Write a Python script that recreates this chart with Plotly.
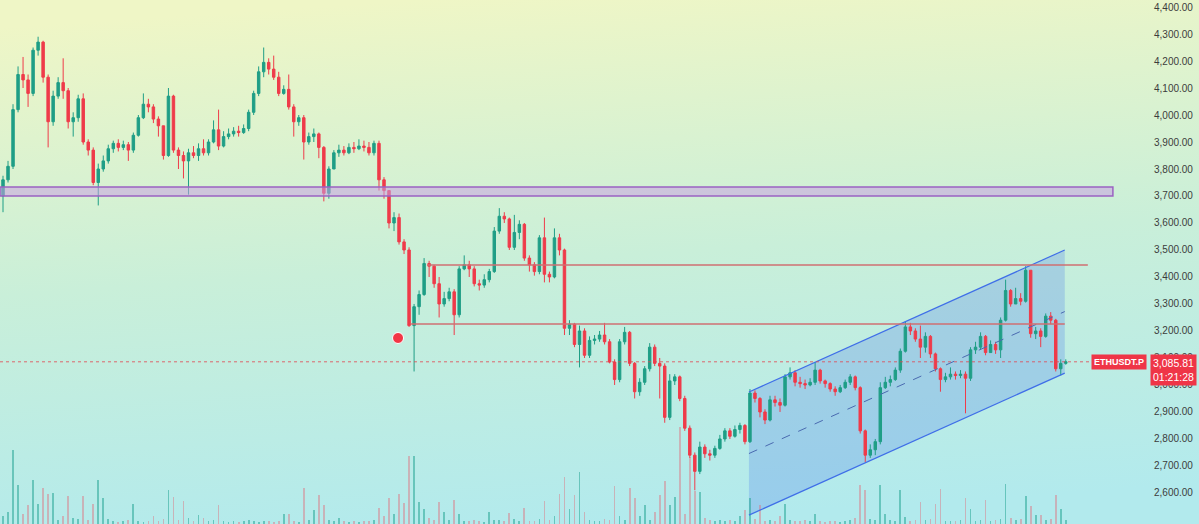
import base64
import plotly.graph_objects as go

# ---------------- data ----------------
first_open = 3700
closes = [
    3760, 3810, 4020, 4150, 4130, 4080, 4240, 4270, 4140, 3975,
    4070, 4120, 4090, 3975, 3990, 4060, 3900, 3870, 3750, 3800,
    3830, 3875, 3895, 3880, 3890, 3870, 3925, 3990, 4040, 4030,
    3985, 3960, 3850, 4070, 3870, 3850, 3830, 3860, 3850, 3875,
    3860, 3900, 3945, 3885, 3920, 3930, 3940, 3935, 3950, 4010,
    4080, 4160, 4195, 4170, 4140, 4080, 4095, 4030, 3975, 3990,
    3900, 3920, 3930, 3880, 3710, 3800, 3860, 3870, 3860, 3880,
    3875, 3885, 3880, 3860, 3895, 3760, 3720, 3600, 3620, 3530,
    3500, 3220, 3290, 3335, 3450, 3440, 3375, 3300, 3320, 3345,
    3260, 3430, 3445, 3430, 3375, 3370, 3390, 3420, 3570, 3625,
    3615, 3510, 3565, 3595, 3470, 3445, 3420, 3545, 3410, 3400,
    3545, 3500, 3210, 3225, 3150, 3200, 3110, 3165, 3170, 3185,
    3160, 3085, 3020, 3160, 3195, 3080, 2975, 3010, 3060, 3140,
    3080, 3070, 2880, 3015, 3030, 2950, 2840, 2740, 2680, 2770,
    2745, 2740, 2765, 2800, 2830, 2810, 2835, 2850, 2790, 2970,
    2950, 2900, 2870, 2945, 2935, 2925, 3030, 3045, 3010, 3005,
    3000, 3010, 3055, 3015, 3005, 2985, 2975, 2990, 3010, 3030,
    2990, 2830, 2740, 2760, 2790, 2990, 3010, 3020, 3055, 3125,
    3215, 3200, 3170, 3140, 3180, 3115, 3060, 3020, 3030, 3040,
    3035, 3040, 3025, 3130, 3140, 3180, 3120, 3150, 3130, 3240,
    3350, 3300, 3320, 3310, 3425, 3190, 3200, 3180, 3255, 3240,
    3060, 3080, 3085.81,
]
highs = [
    3775, 3830, 4040, 4180, 4215, 4150, 4250, 4290, 4275, 4150,
    4090, 4140, 4210, 4100, 4010, 4075, 4080, 3910, 3880, 3820,
    3850, 3890, 3905, 3910, 3905, 3900, 3935, 4000, 4080, 4060,
    4040, 3995, 3960, 4100, 4075, 3880, 3865, 3875, 3885, 3895,
    3910, 3910, 3980, 4020, 3940, 3950, 3955, 3960, 3965, 4020,
    4090, 4180, 4250, 4210, 4220, 4160, 4110, 4150, 4040, 4000,
    4000, 3935, 3950, 3935, 3885, 3810, 3870, 3890, 3885, 3895,
    3900, 3910, 3905, 3900, 3905, 3905, 3770, 3720, 3640, 3635,
    3540, 3510, 3300, 3350, 3470, 3460, 3445, 3400, 3345, 3360,
    3355, 3440, 3480, 3460, 3440, 3390, 3410, 3430, 3585, 3655,
    3640, 3620, 3630, 3610, 3600, 3480, 3455, 3555, 3620, 3420,
    3580, 3560, 3505, 3240, 3230, 3220, 3210, 3180, 3185, 3200,
    3230, 3170, 3095, 3170, 3215, 3200, 3085, 3025, 3070, 3155,
    3150, 3100, 3080, 3040, 3040, 3035, 2960, 2850, 2750, 2790,
    2780, 2760, 2775, 2815, 2840, 2840, 2850, 2860, 2855, 2985,
    2980, 2955, 2910, 2960, 2960, 2950, 3040, 3065, 3055, 3030,
    3020, 3025, 3085, 3060, 3020, 3010, 2995, 3000, 3020, 3040,
    3035, 2995, 2835, 2780, 2800, 3010, 3030, 3035, 3065, 3135,
    3235, 3230, 3210, 3220, 3195, 3185, 3120, 3065, 3045, 3065,
    3050, 3055, 3050, 3140, 3160, 3195, 3185, 3165, 3160, 3250,
    3390, 3355, 3360, 3340, 3440, 3425, 3215, 3210, 3265, 3270,
    3245, 3095, 3095,
]
lows = [
    3640, 3750, 3800, 4010, 4100, 4030, 4070, 4220, 4120, 3880,
    3960, 4060, 4060, 3950, 3920, 3975, 3890, 3850, 3740, 3665,
    3790, 3820, 3860, 3865, 3870, 3830, 3860, 3920, 3985, 4010,
    3970, 3920, 3835, 3845, 3860, 3800, 3765, 3705, 3840, 3830,
    3850, 3850, 3895, 3870, 3880, 3910, 3920, 3920, 3930, 3940,
    4000, 4070, 4140, 4150, 4130, 4070, 4075, 4020, 3920, 3960,
    3835, 3890, 3900, 3840, 3680, 3690, 3800, 3845, 3850, 3855,
    3860, 3870, 3865, 3850, 3850, 3720, 3690, 3580, 3570, 3520,
    3485, 3215, 3050, 3260, 3330, 3400, 3360, 3250, 3290, 3310,
    3185, 3250, 3425, 3400, 3365, 3350, 3360, 3380, 3415, 3560,
    3600, 3500, 3500, 3540, 3460, 3420, 3405, 3410, 3380, 3380,
    3395, 3480, 3185, 3185, 3140, 3065, 3100, 3100, 3150, 3160,
    3150, 3080, 3000, 3010, 3150, 3070, 2950, 2960, 3000, 3050,
    3070, 2950, 2860, 2870, 3000, 2940, 2830, 2730, 2610, 2670,
    2730, 2720, 2730, 2760, 2790, 2800, 2805, 2820, 2780, 2785,
    2935, 2880, 2855, 2865, 2920, 2900, 2920, 3020, 2995, 2990,
    2985, 2995, 3000, 3005, 2990, 2975, 2960, 2970, 2985, 3000,
    2980, 2820, 2715, 2730, 2740, 2780, 2985, 2995, 3015, 3045,
    3120, 3185, 3160, 3100, 3120, 3100, 3050, 2975, 3010, 3020,
    3020, 3025, 2895, 3015, 3115, 3130, 3110, 3120, 3115, 3100,
    3235, 3290, 3300, 3295, 3305, 3175, 3170, 3140, 3175, 3225,
    3050, 3035, 3075,
]
volumes = [
    8, 12, 74, 39, 10, 19, 44, 20, 36, 30,
    31, 4, 8, 28, 6, 5, 28, 4, 20, 44,
    26, 5, 3, 2, 3, 4, 20, 3, 2, 3,
    8, 3, 5, 34, 27, 4, 23, 6, 3, 9,
    6, 3, 4, 19, 3, 2, 3, 2, 3, 4,
    3, 2, 3, 3, 2, 3, 10, 10, 3, 2,
    36, 4, 14, 29, 19, 4, 3, 6, 3, 2,
    3, 2, 3, 3, 4, 16, 8, 26, 10, 30,
    21, 68, 68, 22, 15, 6, 4, 22, 12, 4,
    24, 10, 3, 3, 4, 3, 2, 12, 4, 4,
    3, 11, 5, 3, 16, 3, 3, 5, 23, 4,
    8, 30, 47, 15, 29, 52, 12, 4, 3, 3,
    5, 4, 38, 8, 4, 36, 26, 8, 19, 4,
    12, 29, 43, 19, 27, 97, 10, 67, 33, 32,
    6, 4, 3, 4, 3, 4, 3, 8, 14, 26,
    5, 19, 3, 4, 3, 8, 20, 4, 3, 3,
    4, 3, 10, 3, 2, 3, 3, 2, 3, 4,
    6, 39, 34, 5, 4, 39, 10, 4, 3, 34,
    7, 3, 4, 22, 4, 5, 20, 35, 3, 3,
    3, 4, 26, 15, 3, 4, 24, 3, 4, 5,
    40, 6, 4, 5, 28, 18, 9, 9, 4, 5,
    29, 15, 4,
]
opens = [first_open] + closes[:-1]
idx = list(range(len(closes)))

# drawings (price levels / channel), in chart coordinates
support_band = [3700, 3733]
resistance_hi = 3444
resistance_lo = 3226
channel_x = [148.8, 211.8]
channel_top = [2974, 3500]
channel_bottom = [2518, 3044]
alert_x, alert_price = 78.8, 3174
symbol = "ETHUSDT.P"
countdown = "01:21:28"
last_price = closes[-1]

# ---------------- figure ----------------
W, H = 1199, 524
MR = 46
plot_w = W - MR

inc_col = "#1f9e86"
dec_col = "#ef3b4a"
vol_colors = ["rgba(40,165,150,0.55)" if c >= o else "rgba(225,110,125,0.45)"
              for o, c in zip(opens, closes)]

fig = go.Figure()
fig.add_trace(go.Bar(x=idx, y=volumes, width=0.35, marker_color=vol_colors,
                     marker_line_width=0, yaxis="y", hoverinfo="skip",
                     showlegend=False))
fig.add_trace(go.Candlestick(
    x=idx, open=opens, high=highs, low=lows, close=closes, yaxis="y2",
    increasing=dict(line=dict(color=inc_col, width=1), fillcolor=inc_col),
    decreasing=dict(line=dict(color=dec_col, width=1), fillcolor=dec_col),
    whiskerwidth=0, showlegend=False))
fig.add_trace(go.Scatter(x=[alert_x], y=[alert_price], yaxis="y2", mode="markers",
                         marker=dict(size=11, color="#f23645",
                                     line=dict(color="#ffffff", width=1)),
                         showlegend=False, hoverinfo="skip"))

shapes = []
# support band
shapes.append(dict(type="rect", xref="x", yref="y2", x0=-0.6, x1=221.4,
                   y0=support_band[0], y1=support_band[1],
                   fillcolor="rgba(200,160,225,0.55)",
                   line=dict(color="#9b62c2", width=1.5), layer="above"))
# channel fill
cx0, cx1 = channel_x
shapes.append(dict(type="path", xref="x", yref="y2",
                   path=f"M {cx0},{channel_top[0]} L {cx1},{channel_top[1]} "
                        f"L {cx1},{channel_bottom[1]} L {cx0},{channel_bottom[0]} Z",
                   fillcolor="rgba(70,120,235,0.25)", line=dict(width=0),
                   layer="below"))
shapes.append(dict(type="line", xref="x", yref="y2", x0=cx0, x1=cx1,
                   y0=channel_top[0], y1=channel_top[1],
                   line=dict(color="#3f6ee8", width=1.2)))
shapes.append(dict(type="line", xref="x", yref="y2", x0=cx0, x1=cx1,
                   y0=channel_bottom[0], y1=channel_bottom[1],
                   line=dict(color="#3f6ee8", width=1.2)))
shapes.append(dict(type="line", xref="x", yref="y2", x0=cx0, x1=cx1,
                   y0=(channel_top[0] + channel_bottom[0]) / 2,
                   y1=(channel_top[1] + channel_bottom[1]) / 2,
                   line=dict(color="#4a6ab0", width=1, dash="dash")))
# resistance lines
shapes.append(dict(type="line", xref="x", yref="y2", x0=84.8, x1=216.4,
                   y0=resistance_hi, y1=resistance_hi,
                   line=dict(color="#cf6f72", width=1.5)))
shapes.append(dict(type="line", xref="x", yref="y2", x0=81.4, x1=211.8,
                   y0=resistance_lo, y1=resistance_lo,
                   line=dict(color="#cf6f72", width=1.5)))
# last price dotted line
shapes.append(dict(type="line", xref="paper", yref="y2", x0=0, x1=1100 / plot_w,
                   y0=last_price, y1=last_price,
                   line=dict(color="rgba(225,70,80,0.8)", width=1, dash="dot")))

svg = (f'<svg xmlns="http://www.w3.org/2000/svg" width="{W}" height="{H}" '
       f'viewBox="0 0 {W} {H}" preserveAspectRatio="none"><defs>'
       '<linearGradient id="g" x1="0.35" y1="0" x2="0.5" y2="1">'
       '<stop offset="0" stop-color="#eff6c6"/>'
       '<stop offset="0.5" stop-color="#c9efd9"/>'
       '<stop offset="1" stop-color="#b2eaed"/>'
       '</linearGradient></defs>'
       f'<rect width="{W}" height="{H}" fill="url(#g)"/></svg>')
bg_src = "data:image/svg+xml;base64," + base64.b64encode(svg.encode()).decode()

annotations = [
    dict(xref="paper", yref="y2", x=1, y=last_price, xanchor="right",
         yanchor="middle", xshift=-6, text=f"<b>{symbol}</b>", showarrow=False,
         font=dict(color="white", size=9, family="Liberation Sans"),
         bgcolor="#ef3547", borderpad=2),
    dict(xref="paper", yref="y2", x=1, y=last_price, xanchor="left",
         yanchor="top", xshift=-3, yshift=8,
         text=f"{last_price:,.2f}<br>{countdown}", showarrow=False, align="right",
         font=dict(color="white", size=10.5, family="Liberation Sans"),
         bgcolor="#ef3547", borderpad=2),
]

fig.update_layout(
    width=W, height=H,
    margin=dict(l=0, r=MR, t=0, b=0),
    paper_bgcolor="#c9efd9", plot_bgcolor="rgba(0,0,0,0)",
    images=[dict(source=bg_src, xref="paper", yref="paper", x=0, y=1,
                 sizex=W / plot_w, sizey=1, xanchor="left", yanchor="top",
                 sizing="stretch", layer="below")],
    xaxis=dict(range=[-0.6, 229.4], visible=False, rangeslider=dict(visible=False)),
    yaxis=dict(range=[0, 524], visible=False, fixedrange=True),
    yaxis2=dict(range=[2485, 4426], overlaying="y", side="right",
                dtick=100, tick0=0, tickformat=",.2f", showgrid=False,
                zeroline=False, showline=False, ticks="",
                tickfont=dict(size=10, color="#3c3c3c", family="Liberation Sans")),
    shapes=shapes, annotations=annotations, bargap=0, showlegend=False,
)

fig.write_html("out.html", config={"displayModeBar": False},
               post_script="document.body.style.margin='0';"
                           "document.body.style.overflow='hidden';")
